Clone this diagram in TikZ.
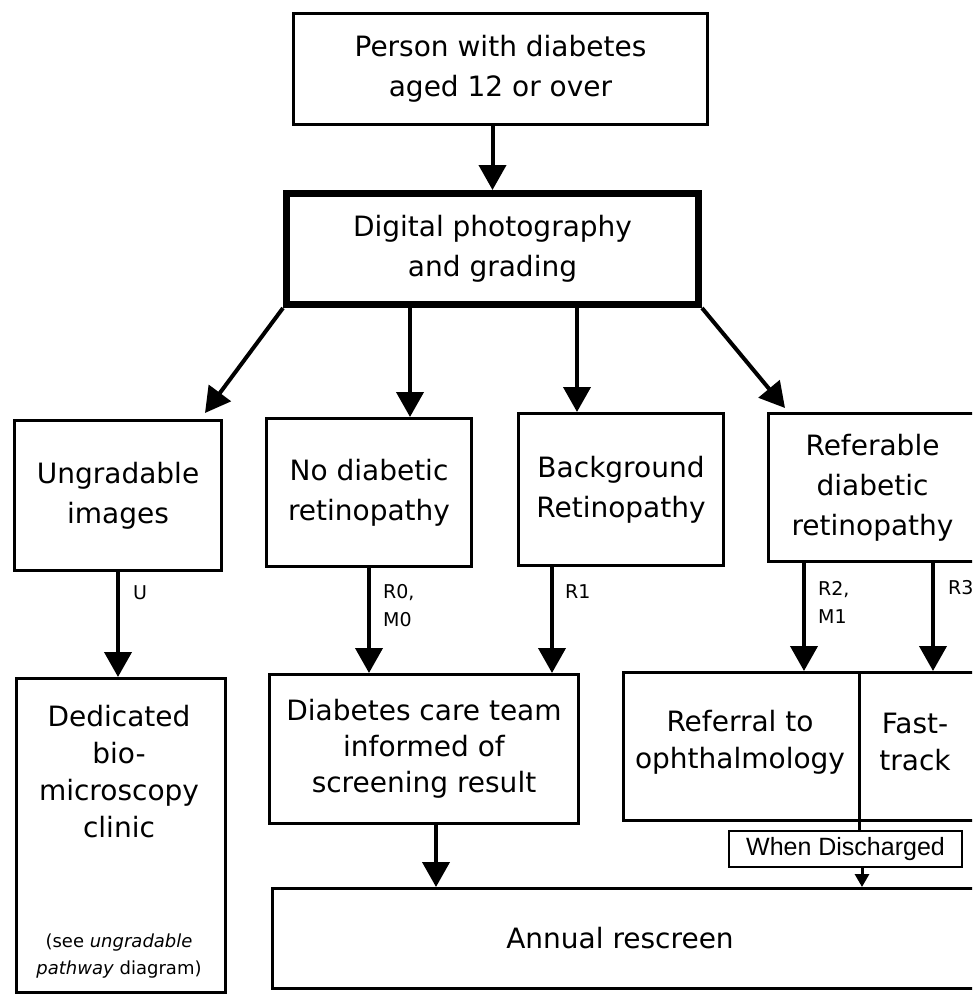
\documentclass[tikz,border=0pt]{standalone}
\usepackage{fontspec}
\setmainfont{DejaVu Sans}
\newfontfamily\arialfont{Liberation Sans}
\usetikzlibrary{arrows.meta,calc}
\begin{document}
\begin{tikzpicture}[x=1pt,y=-1pt,
  box/.style={draw,line width=3pt,inner sep=0pt,align=center,font=\fontsize{28}{40}\selectfont},
  arr/.style={line width=4pt,-{Triangle[width=27pt,length=25pt]}},
  lbl/.style={anchor=west,inner sep=0pt,align=left,font=\fontsize{19}{28}\selectfont},
  txt/.style={inner sep=0pt,align=center,font=\fontsize{28}{40}\selectfont}]
\useasboundingbox (0,0) rectangle (972,996);
\clip (0,0) rectangle (972,996);
\fill[white] (0,0) rectangle (972,996);
% helper x positions
\coordinate (c1) at (410,0);
\coordinate (c2) at (577,0);
\coordinate (c3) at (552,0);
\coordinate (c4) at (804,0);
\coordinate (c5) at (933,0);
\coordinate (c6) at (436,0);
\coordinate (c7) at (859,0);
\coordinate (c8) at (862,0);
% boxes
\node[box,minimum width=414pt,minimum height=111pt] (person) at (500.5,69) {Person with diabetes\\aged 12 or over};
\node[box,line width=7pt,minimum width=412pt,minimum height=111pt] (digital) at (492.5,249) {Digital photography\\and grading};
\node[box,minimum width=207pt,minimum height=150pt] (ungr) at (118,495.5) {Ungradable\\images};
\node[box,minimum width=205pt,minimum height=148pt] (nodr) at (369,492.5) {No diabetic\\retinopathy};
\node[box,minimum width=205pt,minimum height=152pt] (bg) at (621,489.5) {Background\\Retinopathy};
\node[box,minimum width=230pt,minimum height=148pt] (refb) at (883.5,487.5) {};
\node[txt] (refbt) at (872.5,488) {Referable\\diabetic\\retinopathy};
\node[box,minimum width=209pt,minimum height=314pt] (ded) at (121,835.5) {};
\node[txt,font=\fontsize{28}{37}\selectfont] (dedt) at (119,772) {Dedicated\\bio-\\microscopy\\clinic};
\node[inner sep=0pt,align=center,font=\fontsize{18}{27}\selectfont] (dednote) at (119,956) {(see \textit{ungradable}\\\textit{pathway} diagram)};
\node[box,font=\fontsize{28}{36}\selectfont,minimum width=309pt,minimum height=149pt] (dct) at (424,749) {Diabetes care team\\informed of\\screening result};
\node[box,minimum width=370pt,minimum height=148pt] (referral) at (808.5,746.5) {};
\node[txt,font=\fontsize{28}{37}\selectfont] (reft) at (740,742) {Referral to\\ophthalmology};
\node[txt,font=\fontsize{28}{37}\selectfont] (fast) at (915,742) {Fast-\\track};
\node[box,minimum width=720pt,minimum height=100pt] (annual) at (632.5,938.5) {};
\node[txt] (annt) at (620,938) {Annual rescreen};
\node[draw,line width=2pt,minimum width=233pt,minimum height=36pt,inner sep=0pt,font=\arialfont\fontsize{25}{30}\selectfont] (wd) at (845.5,849) {When Discharged};
% divider in referral box
\draw[line width=3pt] (referral.north -| c7) -- (referral.south -| c7);
% connectors
\draw[arr] (person.south -| digital.north) -- (digital.north);
\draw[arr] (digital.south west) -- ([xshift=-18pt,yshift=6pt]ungr.north east);
\draw[arr] (digital.south -| c1) -- (nodr.north -| c1);
\draw[arr] (digital.south -| c2) -- (bg.north -| c2);
\draw[arr] (digital.south east) -- ([xshift=18pt,yshift=4pt]refb.north west);
\draw[arr] (ungr.south) -- (ungr.south |- ded.north);
\draw[arr] (nodr.south) -- (nodr.south |- dct.north);
\draw[arr] (bg.south -| c3) -- (dct.north -| c3);
\draw[arr] (refb.south -| c4) -- (referral.north -| c4);
\draw[arr] (refb.south -| c5) -- (referral.north -| c5);
\draw[arr] (dct.south -| c6) -- (annual.north -| c6);
\draw[line width=3pt] (referral.south -| c7) -- (wd.north -| c7);
\draw[line width=3pt,-{Triangle[width=14pt,length=13pt]}] (wd.south -| c8) -- (annual.north -| c8);
% labels
\node[lbl] (lu) at (133,593) {U};
\node[lbl] (lr0) at (383,606) {R0,\\M0};
\node[lbl] (lr1) at (565,592) {R1};
\node[lbl] (lr2) at (818,602) {R2,\\M1};
\node[lbl] (lr3) at (948,588) {R3};
\end{tikzpicture}
\end{document}
